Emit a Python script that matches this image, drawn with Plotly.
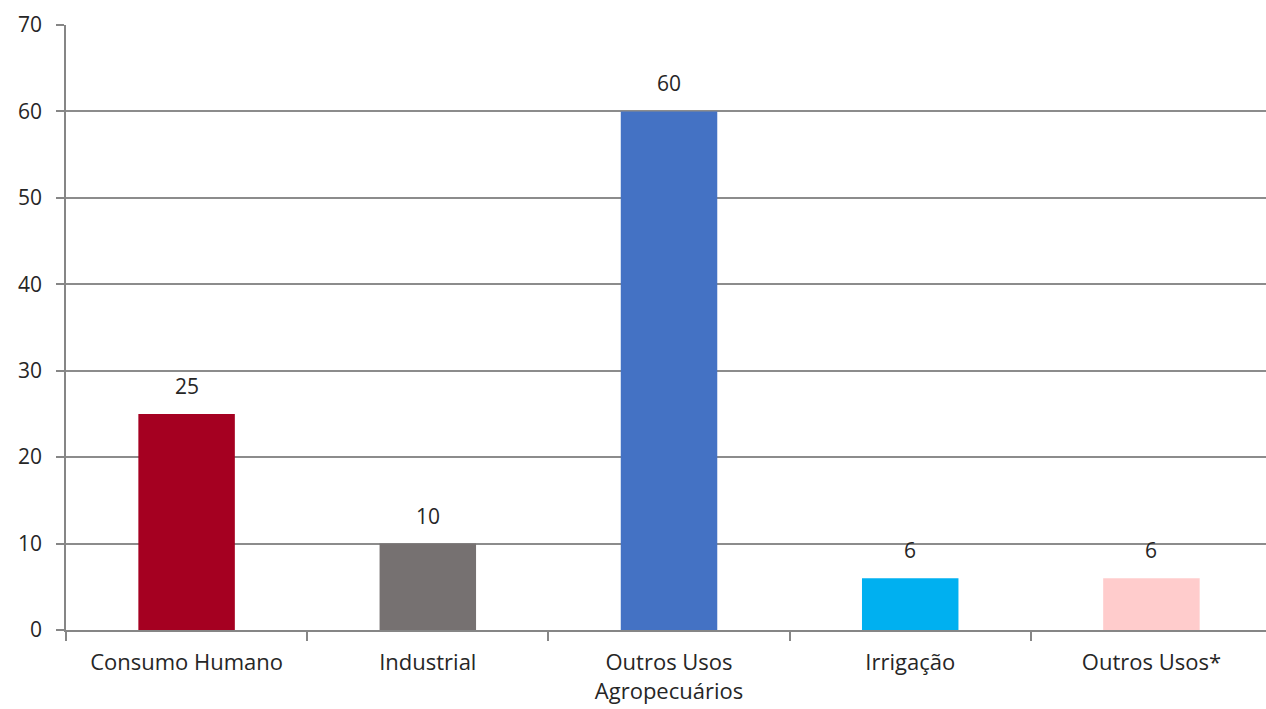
import plotly.graph_objects as go

categories = ["Consumo Humano", "Industrial", "Outros Usos<br>Agropecuários", "Irrigação", "Outros Usos*"]
values = [25, 10, 60, 6, 6]
colors = ["#A50021", "#767171", "#4472C4", "#00B0F0", "#FFCCCC"]
y_ticks = [0, 10, 20, 30, 40, 50, 60, 70]

font_family = "Open Sans, Noto Sans, sans-serif"
fig = go.Figure()
fig.add_trace(go.Bar(
    x=list(range(len(categories))), y=values,
    marker=dict(color=colors, line=dict(width=0)),
    width=0.4,
))
for i, v in enumerate(values):
    fig.add_annotation(x=i, y=v, text=str(v), showarrow=False, yanchor="bottom",
                       yshift=12, font=dict(size=21, color="#262626", family=font_family))

fig.update_layout(
    width=1266, height=709,
    margin=dict(l=66, r=0, t=25, b=79),
    plot_bgcolor="white", paper_bgcolor="white",
    showlegend=False,
    font=dict(family=font_family, size=21, color="#333333"),
    bargap=0.6,
)
fig.update_xaxes(
    range=[-0.5, 4.475],
    tickmode="array", tickvals=list(range(len(categories))), ticktext=categories,
    showline=True, linecolor="#868686", linewidth=1.5,
    ticks="", showgrid=False, zeroline=False,
    ticklabelstandoff=12,
    tickfont=dict(size=22, color="#262626"),
)
# boundary tick marks between categories via minor ticks
fig.update_xaxes(minor=dict(tickmode="array", tickvals=[-0.5, 0.5, 1.5, 2.5, 3.5],
                            ticks="outside", ticklen=9, tickcolor="#868686", tickwidth=1.5,
                            showgrid=False))
fig.update_yaxes(
    range=[0, 70], tickmode="array", tickvals=y_ticks,
    showline=True, linecolor="#868686", linewidth=1.5,
    showgrid=True, gridcolor="#8c8c8c", gridwidth=1.5,
    ticks="outside", ticklen=8, tickcolor="#868686", tickwidth=1.5,
    zeroline=False,
    ticklabelstandoff=10,
    tickfont=dict(size=21, color="#262626"),
)
fig.write_html("out.html")
